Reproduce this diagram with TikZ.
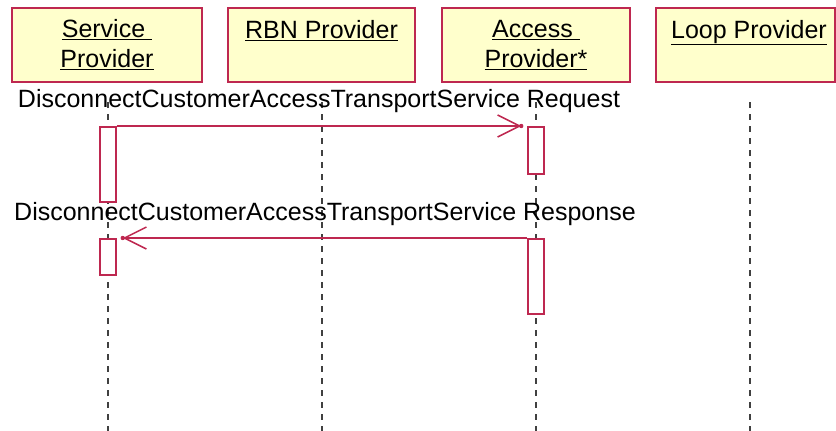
\documentclass[tikz,border=0pt]{standalone}
\usepackage{fontspec}
\setmainfont{Liberation Sans}
\usetikzlibrary{arrows.meta}

\definecolor{umlred}{RGB}{190,40,80}
\definecolor{umlyellow}{RGB}{255,255,204}

\tikzset{
    objbox/.style={draw=umlred, fill=umlyellow, line width=1.5pt, minimum height=74pt,
        inner sep=0pt, align=center, font=\fontsize{25}{30}\selectfont},
    lifeline/.style={draw=black!75, line width=1.8pt, dash pattern=on 6pt off 6pt},
    activation/.style={draw=umlred, fill=white, line width=1.5pt, minimum width=16pt,
        inner sep=0pt, anchor=north},
    msg/.style={draw=umlred, line width=1.5pt,
        -{Straight Barb[length=22pt,width=22pt,line width=1.5pt]}},
    msglabel/.style={font=\fontsize{25}{30}\selectfont, anchor=base, inner sep=0pt}
}

\begin{document}
\begin{tikzpicture}[x=1pt, y=-1pt]
    \useasboundingbox (0,0) rectangle (836,431);

    % objets
    \node[objbox, minimum width=190pt] (sp) at (107,45) {\underline{Service\ }\\\underline{Provider}};
    \node[objbox, minimum width=187pt] (rbn) at (321.5,45) {\underline{RBN Provider}\\\phantom{\underline{P}}};
    \node[objbox, minimum width=188pt] (ap) at (536,45) {\underline{Access\ }\\\underline{Provider*}};
    \node[objbox, minimum width=179pt] (lp) at (745.5,45) {\hspace*{7pt}\underline{Loop Provider}\\\phantom{\underline{P}}};

    % lignes de vie
    \foreach \o/\x in {sp/108, rbn/322, ap/536, lp/750}
        \draw[lifeline] (\x,102) -- (\x,431);

    % activations
    \node[activation, minimum height=75pt] (spA1) at (108,126) {};
    \node[activation, minimum height=47pt] (apA1) at (536,126) {};
    \node[activation, minimum height=36pt] (spA2) at (108,238) {};
    \node[activation, minimum height=75pt] (apA2) at (536,238) {};

    \coordinate (reqtip) at ([xshift=-6pt]apA1.north west);
    \coordinate (resptip) at ([xshift=6pt]spA2.north east);

    % messages
    \draw[msg] (spA1.north east) -- (reqtip)
        node[msglabel, midway, yshift=19pt] {DisconnectCustomerAccessTransportService Request};
    \fill[umlred] (reqtip) circle (2.2pt);
    \draw[msg] (apA2.north west) -- (resptip)
        node[msglabel, midway, yshift=18pt] {DisconnectCustomerAccessTransportService Response};
    \fill[umlred] (resptip) circle (2.2pt);
\end{tikzpicture}
\end{document}
